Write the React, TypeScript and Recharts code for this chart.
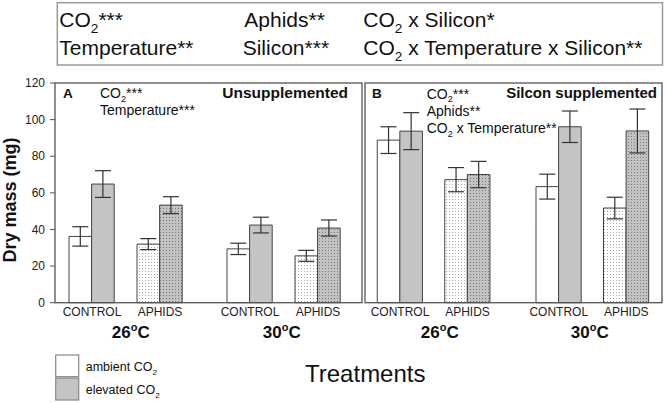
import React from "react";
import { BarChart, Bar, XAxis, YAxis, ErrorBar, Cell } from "recharts";

// ---- data ----
const treatments = ["CONTROL", "APHIDS"];
const temperatures = ["26", "30"];
// order in each series: CONTROL 26°C, APHIDS 26°C, CONTROL 30°C, APHIDS 30°C
const unsAmbient = [36.2, 32, 29.4, 25.6];
const unsAmbientErr = [5.3, 3, 3.1, 3];
const unsElevated = [64.8, 53.3, 42.4, 40.8];
const unsElevatedErr = [7.3, 4.6, 4.3, 4.4];
const silAmbient = [88.8, 67.2, 63.4, 51.7];
const silAmbientErr = [7.3, 6.6, 6.8, 5.9];
const silElevated = [93.7, 70, 96.1, 93.8];
const silElevatedErr = [10.1, 7.2, 8.6, 12];
const yTicks = [0, 20, 40, 60, 80, 100, 120];

const FONT = "'Liberation Sans', Arial, sans-serif";
const CHART_H = 403;
const MARGIN = { top: 83, right: 0, bottom: 70.3, left: 0 };

function makeRows(amb: number[], ambErr: number[], elev: number[], elevErr: number[], t: number) {
  return treatments.map((tr, j) => {
    const i = t * 2 + j;
    return { treatment: tr, amb: amb[i], ambErr: ambErr[i], elev: elev[i], elevErr: elevErr[i] };
  });
}

type GroupProps = {
  rows: any[];
  left: number;
  width: number;
  axis: "labels" | "ticks" | "none";
  axisWidth: number;
  padLeft: number;
};

function Group({ rows, left, width, axis, axisWidth, padLeft }: GroupProps) {
  return (
    <div style={{ position: "absolute", left, top: 0 }}>
      <BarChart width={width} height={CHART_H} data={rows} margin={MARGIN} barGap={0} barSize={22.6}>
        <XAxis
          dataKey="treatment"
          axisLine={false}
          tickLine={false}
          tickSize={3}
          tickMargin={2}
          height={30}
          interval={0}
          padding={{ left: padLeft, right: 0 }}
          tick={{ fontSize: 12, fill: "#222", fontFamily: FONT }}
        />
        <YAxis
          domain={[0, 120]}
          ticks={yTicks}
          hide={axis === "none"}
          width={axisWidth}
          axisLine={false}
          tickSize={5}
          tickMargin={5}
          tickLine={{ stroke: "#555" }}
          tick={axis === "labels" ? { fontSize: 12, fill: "#222", fontFamily: FONT } : false}
        />
        <Bar dataKey="amb" isAnimationActive={false} stroke="#444" strokeWidth={1}>
          {rows.map((r, i) => (
            <Cell key={i} fill={r.treatment === "APHIDS" ? "url(#dotsLight)" : "#ffffff"} />
          ))}
          <ErrorBar dataKey="ambErr" width={8} stroke="#333" strokeWidth={1.2} />
        </Bar>
        <Bar dataKey="elev" isAnimationActive={false} stroke="#444" strokeWidth={1}>
          {rows.map((r, i) => (
            <Cell key={i} fill={r.treatment === "APHIDS" ? "url(#dotsDark)" : "#c4c4c4"} />
          ))}
          <ErrorBar dataKey="elevErr" width={8} stroke="#333" strokeWidth={1.2} />
        </Bar>
      </BarChart>
    </div>
  );
}

function CO2({ x, y, fs, after, bold }: { x: number; y: number; fs: number; after: string; bold?: boolean }) {
  return (
    <text x={x} y={y} fontSize={fs} fontWeight={bold ? "bold" : "normal"} fill="#111" style={{ whiteSpace: "pre" }}>
      <tspan>CO</tspan>
      <tspan dy={fs * 0.28} fontSize={fs * 0.65}>2</tspan>
      <tspan dy={-fs * 0.28}>{after}</tspan>
    </text>
  );
}

function TempLabel({ x, label }: { x: number; label: string }) {
  return (
    <text x={x} y={338} fontSize={17} fontWeight="bold" fill="#111" textAnchor="middle">
      <tspan>{label}</tspan>
      <tspan dy={-7} fontSize={11}>o</tspan>
      <tspan dy={7}>C</tspan>
    </text>
  );
}

export default function App() {
  const a26 = makeRows(unsAmbient, unsAmbientErr, unsElevated, unsElevatedErr, 0);
  const a30 = makeRows(unsAmbient, unsAmbientErr, unsElevated, unsElevatedErr, 1);
  const b26 = makeRows(silAmbient, silAmbientErr, silElevated, silElevatedErr, 0);
  const b30 = makeRows(silAmbient, silAmbientErr, silElevated, silElevatedErr, 1);

  return (
    <div style={{ position: "absolute", left: 0, top: 0, width: 666, height: 403, background: "#fff", fontFamily: FONT }}>
      <svg width={0} height={0} style={{ position: "absolute" }}>
        <defs>
          <pattern id="dotsLight" width={3} height={3} patternUnits="userSpaceOnUse">
            <rect width={3} height={3} fill="#ffffff" />
            <rect x={1} y={1} width={1} height={1} fill="#a8a8a8" />
          </pattern>
          <pattern id="dotsDark" width={3} height={3} patternUnits="userSpaceOnUse">
            <rect width={3} height={3} fill="#c2c2c2" />
            <rect x={1} y={1} width={1} height={1} fill="#7a7a7a" />
          </pattern>
        </defs>
      </svg>

      <Group rows={a26} left={0} width={194} axis="labels" axisWidth={55} padLeft={3} />
      <Group rows={a30} left={216} width={136} axis="none" axisWidth={0} padLeft={0} />
      <Group rows={b26} left={355} width={146.25} axis="ticks" axisWidth={10} padLeft={1.25} />
      <Group rows={b30} left={524.5} width={135} axis="none" axisWidth={0} padLeft={0} />

      <svg width={666} height={403} style={{ position: "absolute", left: 0, top: 0, pointerEvents: "none" }} fontFamily={FONT}>
        {/* top box */}
        <rect x={57.3} y={2.7} width={605.2} height={62.3} fill="none" stroke="#9a9a9a" strokeWidth={1.5} />
        <CO2 x={59.3} y={26.7} fs={21} after="***" />
        <text x={244.3} y={26.7} fontSize={21} fill="#111">Aphids**</text>
        <CO2 x={363.3} y={26.7} fs={21} after=" x Silicon*" />
        <text x={59.3} y={55} fontSize={21} fill="#111">Temperature**</text>
        <text x={242.7} y={55} fontSize={21} fill="#111">Silicon***</text>
        <CO2 x={363.3} y={55} fs={21} after=" x Temperature x Silicon**" />

        {/* panel frames */}
        <rect x={55} y={83} width={307} height={219.7} fill="none" stroke="#555" strokeWidth={1.3} />
        <rect x={365} y={83} width={297} height={219.7} fill="none" stroke="#555" strokeWidth={1.3} />

        {/* panel A annotations */}
        <text x={63} y={98} fontSize={13.5} fontWeight="bold" fill="#111">A</text>
        <CO2 x={100} y={98.3} fs={14} after="***" />
        <text x={100} y={115} fontSize={14} fill="#111">Temperature***</text>
        <text x={348} y={98} fontSize={15.5} fontWeight="bold" fill="#111" textAnchor="end">Unsupplemented</text>

        {/* panel B annotations */}
        <text x={372} y={98} fontSize={13.5} fontWeight="bold" fill="#111">B</text>
        <CO2 x={426.7} y={98.5} fs={14} after="***" />
        <text x={426.7} y={116} fontSize={14} fill="#111">Aphids**</text>
        <CO2 x={426.7} y={133} fs={14} after=" x Temperature**" />
        <text x={657} y={98} fontSize={15} fontWeight="bold" fill="#111" textAnchor="end">Silcon supplemented</text>

        {/* temperature group labels */}
        <TempLabel x={130.8} label={temperatures[0]} />
        <TempLabel x={281.7} label={temperatures[1]} />
        <TempLabel x={439.7} label={temperatures[0]} />
        <TempLabel x={589.7} label={temperatures[1]} />

        {/* y axis label */}
        <text transform="translate(15.5,200) rotate(-90)" textAnchor="middle" fontSize={18} fontWeight="bold" fill="#111">
          Dry mass (mg)
        </text>

        {/* x axis title */}
        <text x={305} y={382} fontSize={24} fill="#111">Treatments</text>

        {/* legend */}
        <rect x={55.7} y={355} width={23} height={21.7} fill="#ffffff" stroke="#888" strokeWidth={1.2} />
        <rect x={55.7} y={378} width={23} height={22} fill="#c4c4c4" stroke="#888" strokeWidth={1.2} />
        <text x={85.7} y={371} fontSize={12.5} fill="#111" style={{ whiteSpace: "pre" }}>
          <tspan>ambient CO</tspan>
          <tspan dy={3.75} fontSize={8.1}>2</tspan>
        </text>
        <text x={85.7} y={394} fontSize={12.5} fill="#111" style={{ whiteSpace: "pre" }}>
          <tspan>elevated CO</tspan>
          <tspan dy={3.75} fontSize={8.1}>2</tspan>
        </text>
      </svg>
    </div>
  );
}
